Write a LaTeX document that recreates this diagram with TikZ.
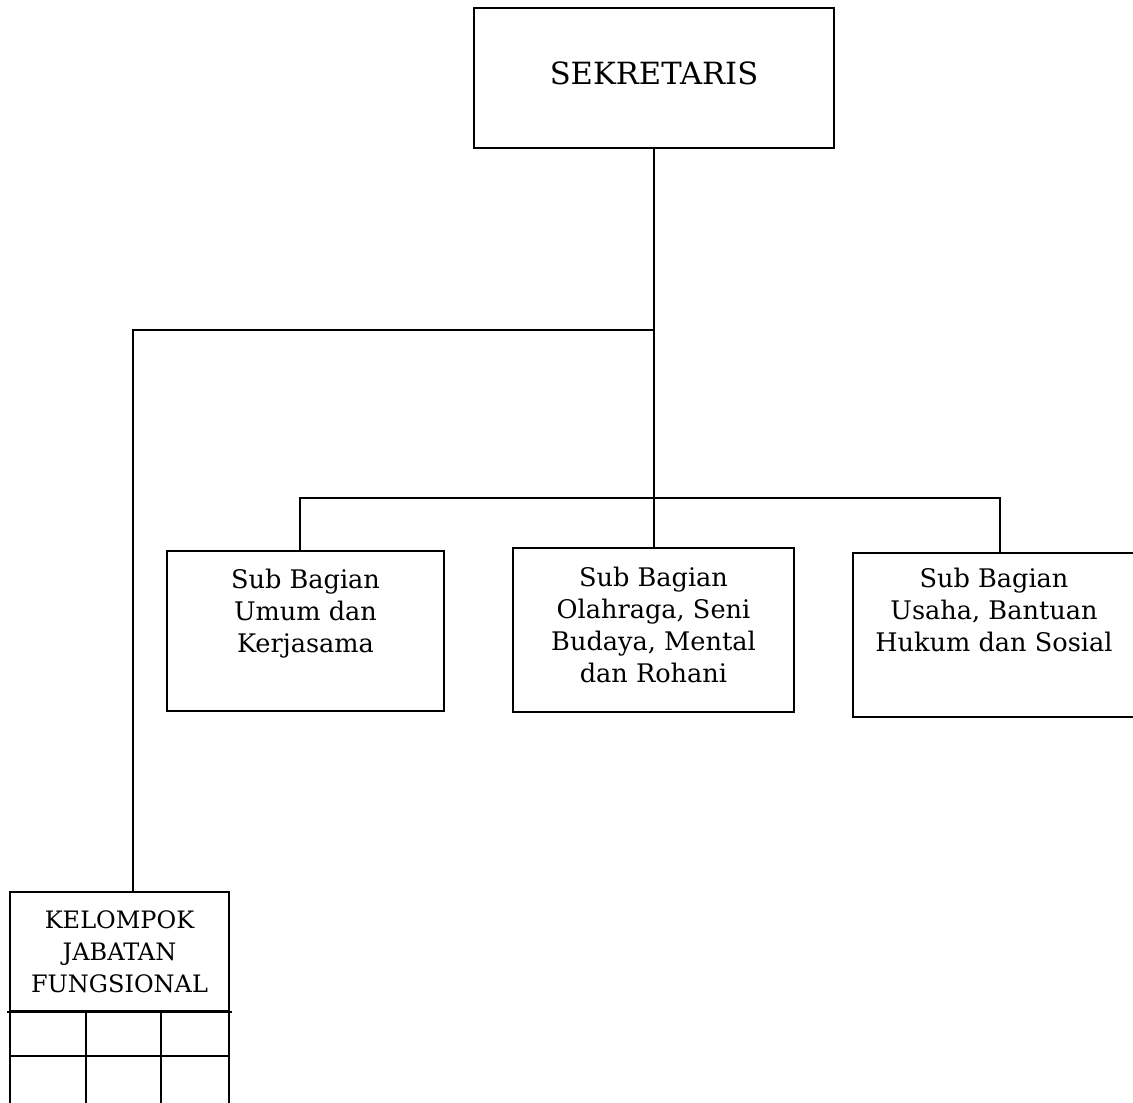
\documentclass[tikz,border=0pt]{standalone}
\usepackage{fontspec}
\setmainfont{DejaVu Serif}
\begin{document}
\begin{tikzpicture}[x=0.5pt,y=-0.5pt,line width=1pt,
            box/.style = {draw, rectangle, inner sep=0pt,
                font=\fontsize{12}{16}\selectfont, align=center},
            boxtext/.style = {anchor=north, align=center, inner sep=0pt,
                font=\fontsize{12.8}{16}\selectfont}]

        \useasboundingbox (0,0) rectangle (1133,1102);
        \clip (0,0) rectangle (1133,1102);

        % Sekretaris
        \node[box,minimum width=180pt,minimum height=70pt,text depth=5pt,
            font=\fontsize{15.3}{18}\selectfont] (sek) at (654,78) {SEKRETARIS};

        % Sub bagian
        \node[box,minimum width=138.5pt,minimum height=80pt] (sub1) at (305.5,631) {};
        \node[boxtext] (sub1t) at ([yshift=-9pt]sub1.north) {Sub Bagian\\Umum dan\\Kerjasama};

        \node[box,minimum width=140.5pt,minimum height=82pt] (sub2) at (653.5,630) {};
        \node[boxtext] (sub2t) at ([yshift=-9.5pt]sub2.north) {Sub Bagian\\Olahraga, Seni\\Budaya, Mental\\dan Rohani};

        \node[box,minimum width=141pt,minimum height=82pt] (sub3) at (994,635) {};
        \node[boxtext] (sub3t) at ([yshift=-7.5pt]sub3.north) {Sub Bagian\\Usaha, Bantuan\\Hukum dan Sosial};

        % Kelompok jabatan fungsional
        \node[box,minimum width=109.5pt,minimum height=59.5pt] (kjf) at (119.5,951.5) {KELOMPOK\\JABATAN\\FUNGSIONAL};
        \draw ([xshift=-1pt]kjf.south west) -- ([xshift=1pt]kjf.south east);
        \draw (kjf.south west) ++(0,44) -- ++(219,0);
        \foreach \x in {10,86,161,229}
            \draw (\x,1011) -- (\x,1110);

        % Connectors
        \coordinate (kl) at (133,330);
        \coordinate (bl) at (300,498);
        \coordinate (br) at (1000,498);
        \draw (sek.south) -- (sek.south |- sub2.north);
        \draw (sek.south |- kl) -- (kl) -- (kl |- kjf.north);
        \draw (bl |- sub1.north) -- (bl) -- (br) -- (br |- sub3.north);

        \end{tikzpicture}
\end{document}
